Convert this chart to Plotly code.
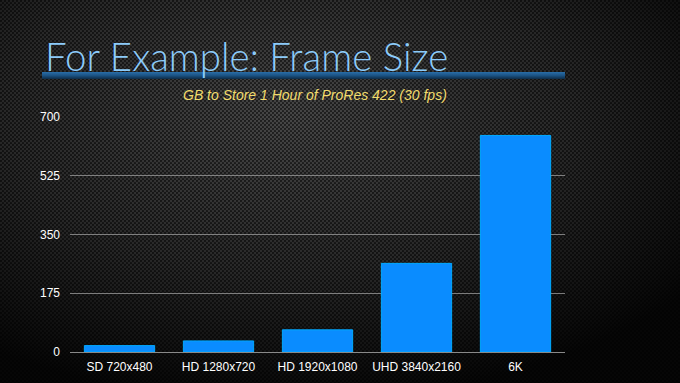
import base64
import plotly.graph_objects as go

categories = ["SD 720x480", "HD 1280x720", "HD 1920x1080", "UHD 3840x2160", "6K"]
gb_per_hour = [19, 33, 66, 264, 645]
tick_vals = [0, 175, 350, 525, 700]

W, H = 680, 383
L, R, T, B = 70, 115, 117, 31
PW, PH = W - L - R, H - T - B

svg = f"""<svg xmlns='http://www.w3.org/2000/svg' width='{W}' height='{H}' viewBox='0 0 {W} {H}'>
<defs>
<radialGradient id='g' cx='0.42' cy='0.3' r='0.75'>
<stop offset='0' stop-color='#474747'/>
<stop offset='0.55' stop-color='#282828'/>
<stop offset='1' stop-color='#060606'/>
</radialGradient>
<pattern id='p' width='4' height='4' patternUnits='userSpaceOnUse'>
<circle cx='1' cy='1' r='1.1' fill='rgba(0,0,0,0.6)'/>
<circle cx='3' cy='3' r='1.1' fill='rgba(0,0,0,0.6)'/>
</pattern>
<linearGradient id='u' x1='0' y1='0' x2='0' y2='1'>
<stop offset='0' stop-color='#2a6ea8'/>
<stop offset='0.5' stop-color='#1b5384'/>
<stop offset='1' stop-color='#0d2c48'/>
</linearGradient>
</defs>
<rect width='{W}' height='{H}' fill='url(#g)'/>
<rect width='{W}' height='{H}' fill='url(#p)'/>
<rect x='42' y='72' width='523' height='7' fill='url(#u)'/>
</svg>"""
bg_src = "data:image/svg+xml;base64," + base64.b64encode(svg.encode()).decode()

fig = go.Figure(
    go.Bar(
        x=categories,
        y=gb_per_hour,
        width=0.71,
        marker=dict(color="#0a8cff", line=dict(color="#00aaff", width=1)),
    )
)

tick_font = dict(family="Liberation Sans, Arial, sans-serif", color="white", size=12)

fig.update_layout(
    width=W,
    height=H,
    margin=dict(l=L, r=R, t=T, b=B),
    paper_bgcolor="#0a0a0a",
    plot_bgcolor="rgba(0,0,0,0)",
    showlegend=False,
    font=dict(family="Liberation Sans, Arial, sans-serif", color="white", size=12),
    images=[
        dict(
            source=bg_src,
            xref="paper",
            yref="paper",
            x=-L / PW,
            y=1 + T / PH,
            sizex=W / PW,
            sizey=H / PH,
            xanchor="left",
            yanchor="top",
            sizing="stretch",
            layer="below",
        )
    ],
    xaxis=dict(
        showgrid=False,
        showline=False,
        ticks="",
        automargin=False,
        ticklabelstandoff=6,
        tickfont=tick_font,
    ),
    yaxis=dict(
        range=[0, 700],
        tickvals=tick_vals,
        ticktext=[str(v) for v in tick_vals],
        showgrid=True,
        gridcolor="rgba(160,160,160,0.75)",
        gridwidth=1,
        zeroline=True,
        zerolinecolor="rgba(160,160,160,0.85)",
        zerolinewidth=1,
        showline=False,
        ticks="",
        automargin=False,
        ticklabelstandoff=9,
        tickfont=tick_font,
    ),
    annotations=[
        dict(
            text="For Example: Frame Size",
            xref="paper",
            yref="paper",
            x=(43 - L) / PW,
            y=1 + (T - 81) / PH,
            xanchor="left",
            yanchor="bottom",
            showarrow=False,
            font=dict(family="Lato, Open Sans, sans-serif", size=38.5, color="#8ccbfa", weight=300),
        ),
        dict(
            text="<i>GB to Store 1 Hour of ProRes 422 (30 fps)</i>",
            xref="paper",
            yref="paper",
            x=(315 - L) / PW,
            y=1 + (T - 95) / PH,
            xanchor="center",
            yanchor="middle",
            showarrow=False,
            font=dict(family="Liberation Sans, Arial, sans-serif", size=14, color="#f2dc6c"),
        ),
    ],
)

fig.write_html(
    "out.html",
    config={"displayModeBar": False},
    post_script="document.body.style.margin='0';document.body.style.background='#0a0a0a';",
)
